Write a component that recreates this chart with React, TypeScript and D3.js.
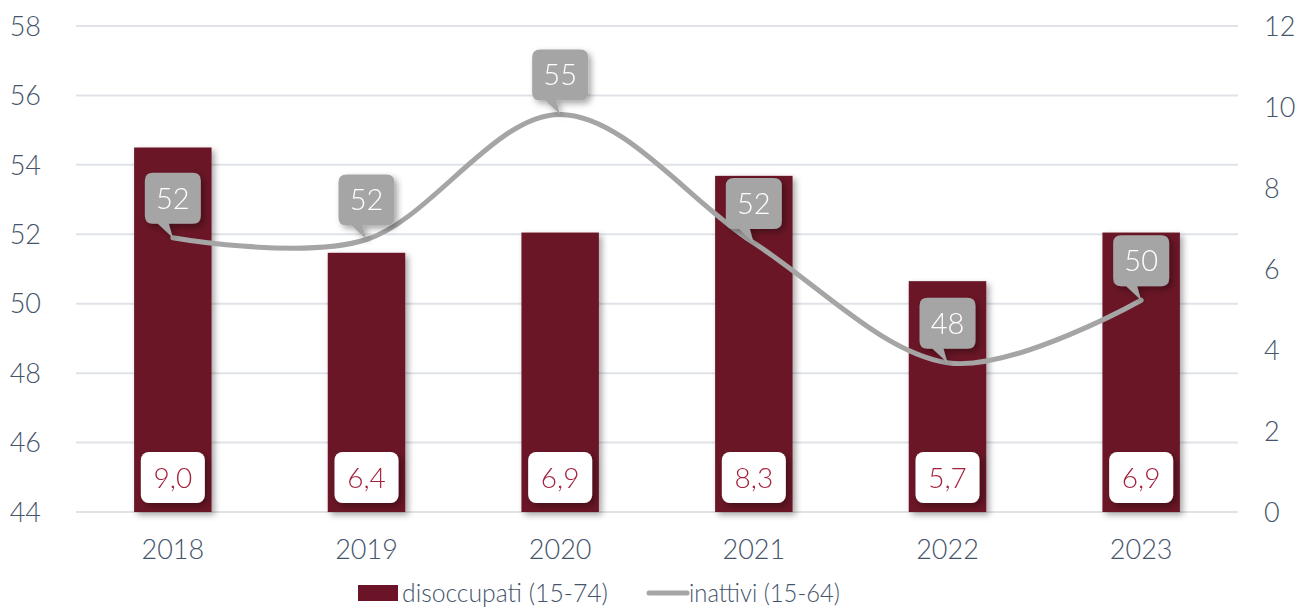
import React from "react";
import * as d3 from "d3";

const years = ["2018", "2019", "2020", "2021", "2022", "2023"];
const disoccupati = [9.0, 6.4, 6.9, 8.3, 5.7, 6.9];
const inattivi = [51.9, 51.85, 55.45, 51.75, 48.3, 50.1];
const leftTicks = [44, 46, 48, 50, 52, 54, 56, 58];
const rightTicks = [0, 2, 4, 6, 8, 10, 12];
const seriesNames = ["disoccupati (15-74)", "inattivi (15-64)"];

const W = 1311;
const H = 608;
const FONT = "Lato, 'Open Sans', sans-serif";
const TEXT = "#44546a";
const BAR = "#6b1428";
const LINE = "#a5a5a5";

export default function App() {
  const x = d3.scaleBand<string>().domain(years).range([76, 1238]).paddingInner(0.6).paddingOuter(0.3);
  const yL = d3.scaleLinear().domain([44, 58]).range([512, 26]);
  const yR = d3.scaleLinear().domain([0, 12]).range([512, 26]);
  const cx = (y: string) => (x(y) as number) + x.bandwidth() / 2;
  const pts: [number, number][] = years.map((y, i) => [cx(y), yL(inattivi[i])]);
  const line = d3.line().curve(d3.curveCardinal.tension(0))(pts) as string;
  const fmt = (v: number) => v.toFixed(1).replace(".", ",");

  return (
    <svg width={W} height={H} style={{ position: "absolute", left: 0, top: 0 }} fontFamily={FONT} fontWeight={300}>
      <defs>
        <filter id="sh" x="-30%" y="-30%" width="160%" height="160%">
          <feDropShadow dx="3" dy="3" stdDeviation="3" floodColor="#000" floodOpacity="0.35" />
        </filter>
      </defs>
      <rect width={W} height={H} fill="#fff" />
      {leftTicks.map((t) => (
        <line key={t} x1={76} x2={1238} y1={yL(t)} y2={yL(t)} stroke="#dfe3e8" strokeWidth={2} />
      ))}
      {leftTicks.map((t) => (
        <text key={"l" + t} x={41} y={yL(t)} dy="0.36em" textAnchor="end" fontSize={27} fill={TEXT}>
          {t}
        </text>
      ))}
      {rightTicks.map((t) => (
        <text key={"r" + t} x={1264} y={yR(t)} dy="0.36em" textAnchor="start" fontSize={27} fill={TEXT}>
          {t}
        </text>
      ))}
      {years.map((y, i) => (
        <rect key={"b" + y} x={x(y)} y={yR(disoccupati[i])} width={x.bandwidth()} height={yR(0) - yR(disoccupati[i])} fill={BAR} filter="url(#sh)" />
      ))}
      {years.map((y) => (
        <text key={"x" + y} x={cx(y)} y={549} dy="0.36em" textAnchor="middle" fontSize={27} fill={TEXT}>
          {y}
        </text>
      ))}
      {years.map((y, i) => (
        <g key={"bl" + y} filter="url(#sh)">
          <rect x={cx(y) - 32} y={452} width={64} height={51} rx={8} fill="#fff" />
          <text x={cx(y)} y={477.5} dy="0.36em" textAnchor="middle" fontSize={28} fill="#a3223c">
            {fmt(disoccupati[i])}
          </text>
        </g>
      ))}
      <path d={line} fill="none" stroke={LINE} strokeWidth={5} strokeLinecap="round" />
      {pts.map(([px, py], i) => {
        const bx = px - 28;
        const by = py - 65;
        const d = `M${bx + 8},${by} H${bx + 48} Q${bx + 56},${by} ${bx + 56},${by + 8} V${by + 43} Q${bx + 56},${by + 51} ${bx + 48},${by + 51} H${px - 4} L${px},${py} L${px - 15},${by + 51} H${bx + 8} Q${bx},${by + 51} ${bx},${by + 43} V${by + 8} Q${bx},${by} ${bx + 8},${by} Z`;
        return (
          <g key={"c" + i} filter="url(#sh)">
            <path d={d} fill={LINE} />
            <text x={px} y={by + 25.5} dy="0.36em" textAnchor="middle" fontSize={29} fill="#fff">
              {Math.round(inattivi[i])}
            </text>
          </g>
        );
      })}
      <g>
        <rect x={358} y={585} width={40} height={16} fill={BAR} />
        <text x={402} y={593} dy="0.36em" fontSize={25} fill={TEXT} textLength={206} lengthAdjust="spacingAndGlyphs">
          {seriesNames[0]}
        </text>
        <line x1={649} x2={687} y1={593} y2={593} stroke={LINE} strokeWidth={5} strokeLinecap="round" />
        <text x={689} y={593} dy="0.36em" fontSize={25} fill={TEXT} textLength={151} lengthAdjust="spacingAndGlyphs">
          {seriesNames[1]}
        </text>
      </g>
    </svg>
  );
}
